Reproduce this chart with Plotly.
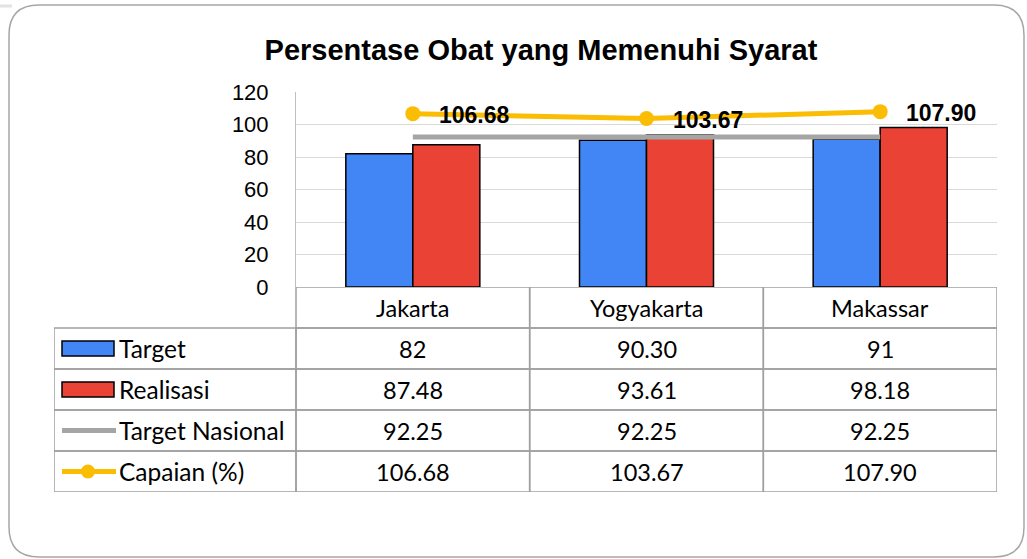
import plotly.graph_objects as go

# ---------------- data ----------------
categories = ["Jakarta", "Yogyakarta", "Makassar"]
target = [82, 90.30, 91]
realisasi = [87.48, 93.61, 98.18]
target_nasional = [92.25, 92.25, 92.25]
capaian = [106.68, 103.67, 107.90]

target_labels = ["82", "90.30", "91"]
realisasi_labels = ["87.48", "93.61", "98.18"]
target_nasional_labels = ["92.25", "92.25", "92.25"]
capaian_labels = ["106.68", "103.67", "107.90"]

series_names = ["Target", "Realisasi", "Target Nasional", "Capaian (%)"]
y_ticks = [0, 20, 40, 60, 80, 100, 120]

title_text = "Persentase Obat yang Memenuhi Syarat"

# ---------------- style ----------------
W, H = 1027, 559
BLUE = "#4285F4"
RED = "#EA4335"
GRAY = "#A5A5A5"
YELLOW = "#FBBC04"
GRID = "#D9D9D9"
TBL = "#A0A0A0"
TABLE_FONT = "Lato, 'Open Sans', sans-serif"
AX_FONT = "'Liberation Sans', Arial, sans-serif"


def fx(p):
    return p / W


def fy(p):
    return 1 - p / H


plot_l, plot_r, plot_t, plot_b = 296, 997, 92, 287
tbl_l, tbl_b = 54, 492
col_w = (plot_r - plot_l) / 3.0
left_w = (plot_l - tbl_l) / col_w
L = -0.5 - left_w

fig = go.Figure()

fig.add_trace(go.Bar(
    x=categories, y=target, name=series_names[0],
    marker=dict(color=BLUE, line=dict(color="black", width=1.5)),
    hoverinfo="skip"))
fig.add_trace(go.Bar(
    x=categories, y=realisasi, name=series_names[1],
    marker=dict(color=RED, line=dict(color="black", width=1.5)),
    hoverinfo="skip"))
fig.add_trace(go.Scatter(
    x=categories, y=target_nasional, name=series_names[2], mode="lines",
    line=dict(color=GRAY, width=5), hoverinfo="skip"))
fig.add_trace(go.Scatter(
    x=categories, y=capaian, name=series_names[3], mode="lines+markers",
    line=dict(color=YELLOW, width=5),
    marker=dict(color=YELLOW, size=15, symbol="circle"),
    hoverinfo="skip"))

annotations = []
# data labels for Capaian
for c, v, lab in zip(categories, capaian, capaian_labels):
    annotations.append(dict(
        x=c, y=v, xref="x", yref="y", text=lab, showarrow=False,
        xanchor="left", yanchor="middle", xshift=24, yshift=-1,
        font=dict(family=AX_FONT, size=23, color="black", weight="bold")))

shapes = []
# outer rounded border
bx0, bx1, by0, by1, rr = 9, 1024, 5, 557, 30
path = (f"M {fx(bx0 + rr)},{fy(by0)} L {fx(bx1 - rr)},{fy(by0)} "
        f"Q {fx(bx1)},{fy(by0)} {fx(bx1)},{fy(by0 + rr)} "
        f"L {fx(bx1)},{fy(by1 - rr)} Q {fx(bx1)},{fy(by1)} {fx(bx1 - rr)},{fy(by1)} "
        f"L {fx(bx0 + rr)},{fy(by1)} Q {fx(bx0)},{fy(by1)} {fx(bx0)},{fy(by1 - rr)} "
        f"L {fx(bx0)},{fy(by0 + rr)} Q {fx(bx0)},{fy(by0)} {fx(bx0 + rr)},{fy(by0)} Z")
shapes.append(dict(type="path", path=path, xref="paper", yref="paper",
                   line=dict(color="#A6A6A6", width=1.5), layer="below"))
# faint page edge at top-left outside the frame
shapes.append(dict(type="line", xref="paper", yref="paper",
                   x0=0, x1=fx(12), y0=fy(6), y1=fy(6),
                   line=dict(color="#E3E3E3", width=3), layer="below"))

# ---------------- data table ----------------
rows = [target_labels, realisasi_labels, target_nasional_labels, capaian_labels]
for i, cat in enumerate(categories):
    for r in range(5):
        shapes.append(dict(type="rect", xref="x2", yref="y2",
                           x0=i - 0.5, x1=i + 0.5, y0=r, y1=r + 1,
                           line=dict(color=TBL, width=1.5)))
    annotations.append(dict(x=i, y=0.5, xref="x2", yref="y2", text=cat,
                            showarrow=False, xanchor="center", yanchor="middle",
                            font=dict(family=TABLE_FONT, size=23.5, color="black")))
    for r, labs in enumerate(rows, start=1):
        annotations.append(dict(x=i, y=r + 0.5, xref="x2", yref="y2", text=labs[i],
                                showarrow=False, xanchor="center", yanchor="middle",
                                font=dict(family=TABLE_FONT, size=23.5, color="black")))

for r, nm in enumerate(series_names, start=1):
    shapes.append(dict(type="rect", xref="x2", yref="y2",
                       x0=L, x1=-0.5, y0=r, y1=r + 1,
                       line=dict(color=TBL, width=1.5)))
    annotations.append(dict(x=L, y=r + 0.5, xref="x2", yref="y2", text=nm,
                            showarrow=False, xanchor="left", yanchor="middle",
                            xshift=63,
                            font=dict(family=TABLE_FONT, size=24.5, color="black")))

# legend keys inside the table
for r, col in ((1, BLUE), (2, RED)):
    shapes.append(dict(type="rect", xref="x2", yref="y2",
                       xsizemode="pixel", xanchor=L, x0=8, x1=60,
                       ysizemode="pixel", yanchor=r + 0.5, y0=-7.5, y1=7.5,
                       fillcolor=col, line=dict(color="black", width=1.5)))
for r, col in ((3, GRAY), (4, YELLOW)):
    shapes.append(dict(type="line", xref="x2", yref="y2",
                       xsizemode="pixel", xanchor=L, x0=8, x1=62,
                       ysizemode="pixel", yanchor=r + 0.5, y0=0, y1=0,
                       line=dict(color=col, width=5)))
shapes.append(dict(type="circle", xref="x2", yref="y2",
                   xsizemode="pixel", xanchor=L, x0=27, x1=41,
                   ysizemode="pixel", yanchor=4.5, y0=-7, y1=7,
                   fillcolor=YELLOW, line=dict(color=YELLOW, width=0)))

fig.update_layout(
    width=W, height=H,
    margin=dict(l=0, r=0, t=0, b=0, pad=0, autoexpand=False),
    paper_bgcolor="white", plot_bgcolor="white",
    showlegend=False,
    barmode="group", bargap=1 - 134 / col_w, bargroupgap=0,
    title=dict(text=title_text, x=fx(541), xanchor="center",
               y=fy(50), yanchor="middle", yref="container",
               font=dict(family=AX_FONT, size=29, color="black", weight="bold")),
    xaxis=dict(domain=[fx(plot_l), fx(plot_r)], range=[-0.5, 2.5],
               showticklabels=False, showgrid=False, zeroline=False,
               showline=False, ticks="", automargin=False),
    yaxis=dict(domain=[fy(plot_b), fy(plot_t)], range=[0, 120],
               tickvals=y_ticks, showgrid=True, gridcolor=GRID, gridwidth=1,
               zeroline=False, showline=True, linecolor="#BFBFBF", linewidth=1,
               ticks="", ticklabelstandoff=22, automargin=False,
               tickfont=dict(family=AX_FONT, size=22, color="black")),
    xaxis2=dict(domain=[fx(tbl_l), fx(plot_r)], range=[L, 2.5], visible=False,
                anchor="y2", automargin=False),
    yaxis2=dict(domain=[fy(tbl_b), fy(plot_b)], range=[5, 0], visible=False,
                anchor="x2", automargin=False),
    shapes=shapes,
    annotations=annotations,
)

fig.write_html("out.html",
               config={"displayModeBar": False},
               post_script="document.body.style.margin='0';"
                           "document.body.style.overflow='hidden';")
